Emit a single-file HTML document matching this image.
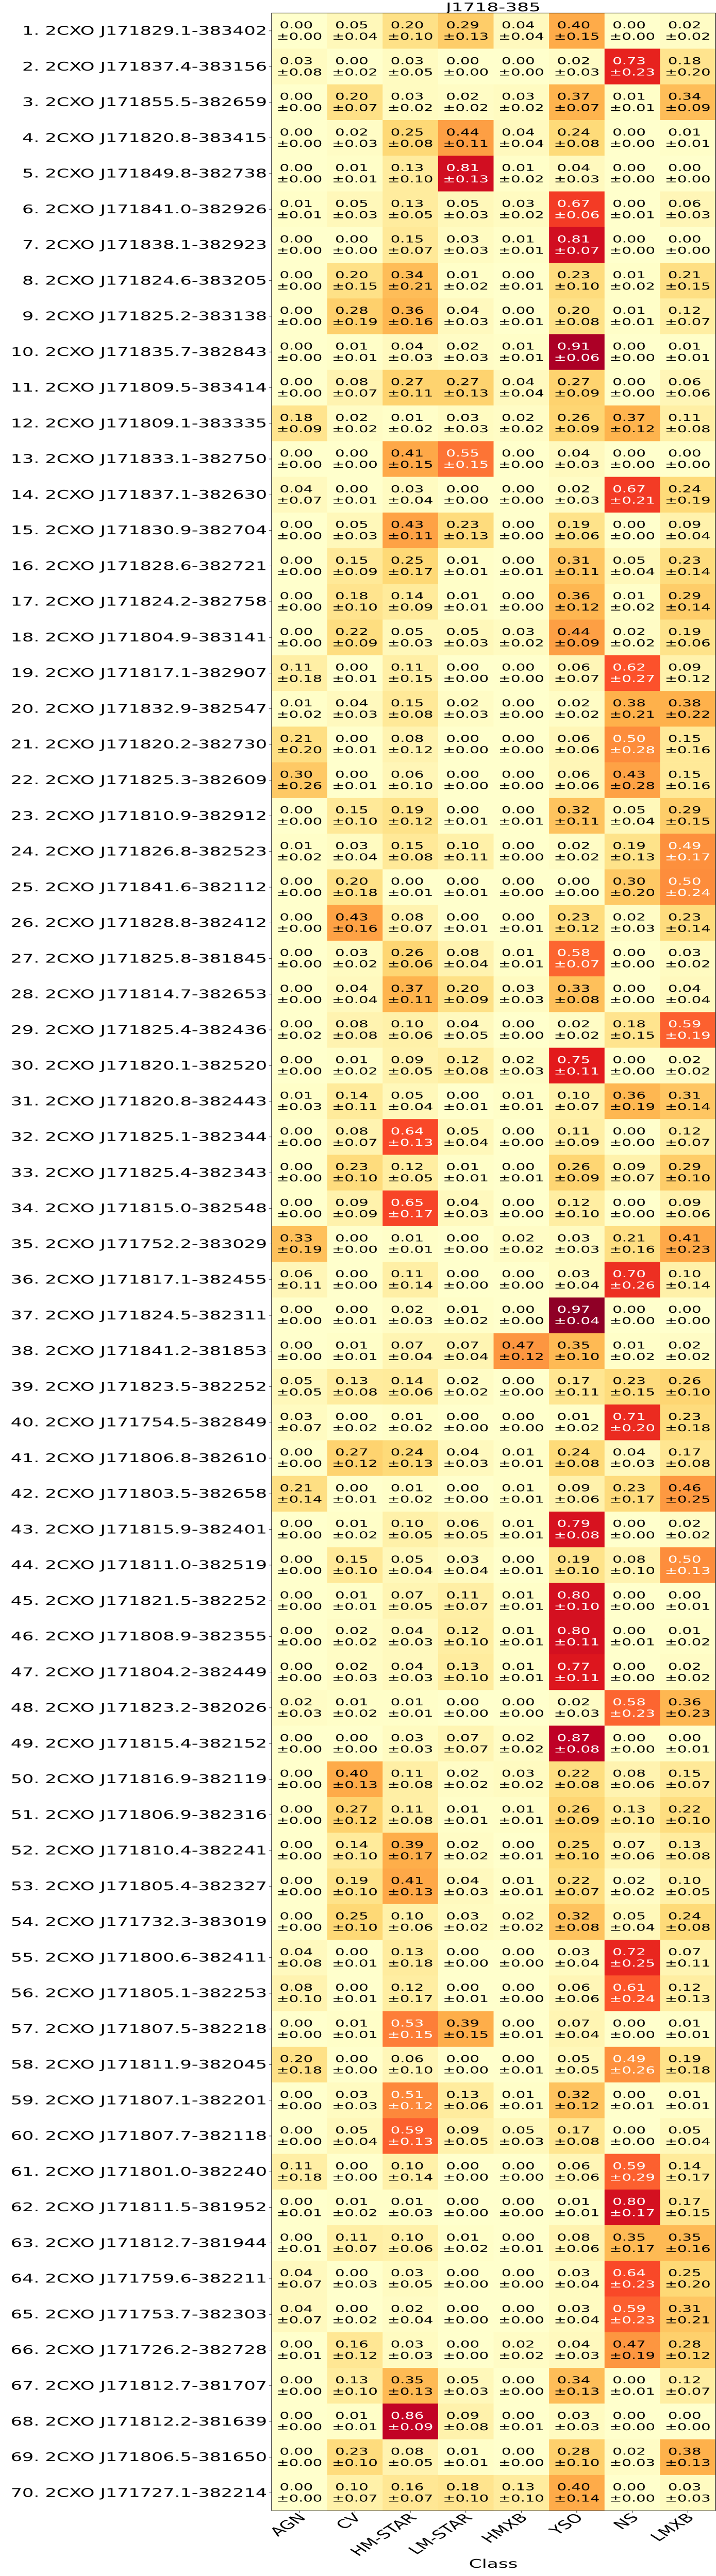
<!DOCTYPE html>
<html><head><meta charset="utf-8">
<style>
html,body{margin:0;padding:0;background:#fff;overflow:hidden;width:100%;height:100%;}
svg{display:block;width:100vw;height:100vh;font-family:"DejaVu Sans","Liberation Sans",sans-serif;}
</style></head>
<body>
<svg id="chart" viewBox="0 0 1389 7725" preserveAspectRatio="none" xmlns="http://www.w3.org/2000/svg">
<text x="957" y="34" text-anchor="middle" font-size="36" fill="#000">J1718-385</text>
<g id="cells"></g>
<g id="ylabels"></g>
<g id="xlabels"></g>
<rect id="frame" fill="none" stroke="#000" stroke-width="1.2"></rect>
<text x="957" y="7700" text-anchor="middle" font-size="36" fill="#000">Class</text>
</svg>
<script>
const classes = ["AGN","CV","HM-STAR","LM-STAR","HMXB","YSO","NS","LMXB"];
const sources = ["2CXO J171829.1-383402","2CXO J171837.4-383156","2CXO J171855.5-382659","2CXO J171820.8-383415","2CXO J171849.8-382738","2CXO J171841.0-382926","2CXO J171838.1-382923","2CXO J171824.6-383205","2CXO J171825.2-383138","2CXO J171835.7-382843","2CXO J171809.5-383414","2CXO J171809.1-383335","2CXO J171833.1-382750","2CXO J171837.1-382630","2CXO J171830.9-382704","2CXO J171828.6-382721","2CXO J171824.2-382758","2CXO J171804.9-383141","2CXO J171817.1-382907","2CXO J171832.9-382547","2CXO J171820.2-382730","2CXO J171825.3-382609","2CXO J171810.9-382912","2CXO J171826.8-382523","2CXO J171841.6-382112","2CXO J171828.8-382412","2CXO J171825.8-381845","2CXO J171814.7-382653","2CXO J171825.4-382436","2CXO J171820.1-382520","2CXO J171820.8-382443","2CXO J171825.1-382344","2CXO J171825.4-382343","2CXO J171815.0-382548","2CXO J171752.2-383029","2CXO J171817.1-382455","2CXO J171824.5-382311","2CXO J171841.2-381853","2CXO J171823.5-382252","2CXO J171754.5-382849","2CXO J171806.8-382610","2CXO J171803.5-382658","2CXO J171815.9-382401","2CXO J171811.0-382519","2CXO J171821.5-382252","2CXO J171808.9-382355","2CXO J171804.2-382449","2CXO J171823.2-382026","2CXO J171815.4-382152","2CXO J171816.9-382119","2CXO J171806.9-382316","2CXO J171810.4-382241","2CXO J171805.4-382327","2CXO J171732.3-383019","2CXO J171800.6-382411","2CXO J171805.1-382253","2CXO J171807.5-382218","2CXO J171811.9-382045","2CXO J171807.1-382201","2CXO J171807.7-382118","2CXO J171801.0-382240","2CXO J171811.5-381952","2CXO J171812.7-381944","2CXO J171759.6-382211","2CXO J171753.7-382303","2CXO J171726.2-382728","2CXO J171812.7-381707","2CXO J171812.2-381639","2CXO J171806.5-381650","2CXO J171727.1-382214"];
const probs = [
[0.00,0.05,0.20,0.29,0.04,0.40,0.00,0.02],
[0.03,0.00,0.03,0.00,0.00,0.02,0.73,0.18],
[0.00,0.20,0.03,0.02,0.03,0.37,0.01,0.34],
[0.00,0.02,0.25,0.44,0.04,0.24,0.00,0.01],
[0.00,0.01,0.13,0.81,0.01,0.04,0.00,0.00],
[0.01,0.05,0.13,0.05,0.03,0.67,0.00,0.06],
[0.00,0.00,0.15,0.03,0.01,0.81,0.00,0.00],
[0.00,0.20,0.34,0.01,0.00,0.23,0.01,0.21],
[0.00,0.28,0.36,0.04,0.00,0.20,0.01,0.12],
[0.00,0.01,0.04,0.02,0.01,0.91,0.00,0.01],
[0.00,0.08,0.27,0.27,0.04,0.27,0.00,0.06],
[0.18,0.02,0.01,0.03,0.02,0.26,0.37,0.11],
[0.00,0.00,0.41,0.55,0.00,0.04,0.00,0.00],
[0.04,0.00,0.03,0.00,0.00,0.02,0.67,0.24],
[0.00,0.05,0.43,0.23,0.00,0.19,0.00,0.09],
[0.00,0.15,0.25,0.01,0.00,0.31,0.05,0.23],
[0.00,0.18,0.14,0.01,0.00,0.36,0.01,0.29],
[0.00,0.22,0.05,0.05,0.03,0.44,0.02,0.19],
[0.11,0.00,0.11,0.00,0.00,0.06,0.62,0.09],
[0.01,0.04,0.15,0.02,0.00,0.02,0.38,0.38],
[0.21,0.00,0.08,0.00,0.00,0.06,0.50,0.15],
[0.30,0.00,0.06,0.00,0.00,0.06,0.43,0.15],
[0.00,0.15,0.19,0.00,0.00,0.32,0.05,0.29],
[0.01,0.03,0.15,0.10,0.00,0.02,0.19,0.49],
[0.00,0.20,0.00,0.00,0.00,0.00,0.30,0.50],
[0.00,0.43,0.08,0.00,0.00,0.23,0.02,0.23],
[0.00,0.03,0.26,0.08,0.01,0.58,0.00,0.03],
[0.00,0.04,0.37,0.20,0.03,0.33,0.00,0.04],
[0.00,0.08,0.10,0.04,0.00,0.02,0.18,0.59],
[0.00,0.01,0.09,0.12,0.02,0.75,0.00,0.02],
[0.01,0.14,0.05,0.00,0.01,0.10,0.36,0.31],
[0.00,0.08,0.64,0.05,0.00,0.11,0.00,0.12],
[0.00,0.23,0.12,0.01,0.00,0.26,0.09,0.29],
[0.00,0.09,0.65,0.04,0.00,0.12,0.00,0.09],
[0.33,0.00,0.01,0.00,0.02,0.03,0.21,0.41],
[0.06,0.00,0.11,0.00,0.00,0.03,0.70,0.10],
[0.00,0.00,0.02,0.01,0.00,0.97,0.00,0.00],
[0.00,0.01,0.07,0.07,0.47,0.35,0.01,0.02],
[0.05,0.13,0.14,0.02,0.00,0.17,0.23,0.26],
[0.03,0.00,0.01,0.00,0.00,0.01,0.71,0.23],
[0.00,0.27,0.24,0.04,0.01,0.24,0.04,0.17],
[0.21,0.00,0.01,0.00,0.01,0.09,0.23,0.46],
[0.00,0.01,0.10,0.06,0.01,0.79,0.00,0.02],
[0.00,0.15,0.05,0.03,0.00,0.19,0.08,0.50],
[0.00,0.01,0.07,0.11,0.01,0.80,0.00,0.00],
[0.00,0.02,0.04,0.12,0.01,0.80,0.00,0.01],
[0.00,0.02,0.04,0.13,0.01,0.77,0.00,0.02],
[0.02,0.01,0.01,0.00,0.00,0.02,0.58,0.36],
[0.00,0.00,0.03,0.07,0.02,0.87,0.00,0.00],
[0.00,0.40,0.11,0.02,0.03,0.22,0.08,0.15],
[0.00,0.27,0.11,0.01,0.01,0.26,0.13,0.22],
[0.00,0.14,0.39,0.02,0.00,0.25,0.07,0.13],
[0.00,0.19,0.41,0.04,0.01,0.22,0.02,0.10],
[0.00,0.25,0.10,0.03,0.02,0.32,0.05,0.24],
[0.04,0.00,0.13,0.00,0.00,0.03,0.72,0.07],
[0.08,0.00,0.12,0.00,0.00,0.06,0.61,0.12],
[0.00,0.01,0.53,0.39,0.00,0.07,0.00,0.01],
[0.20,0.00,0.06,0.00,0.00,0.05,0.49,0.19],
[0.00,0.03,0.51,0.13,0.01,0.32,0.00,0.01],
[0.00,0.05,0.59,0.09,0.05,0.17,0.00,0.05],
[0.11,0.00,0.10,0.00,0.00,0.06,0.59,0.14],
[0.00,0.01,0.01,0.00,0.00,0.01,0.80,0.17],
[0.00,0.11,0.10,0.01,0.00,0.08,0.35,0.35],
[0.04,0.00,0.03,0.00,0.00,0.03,0.64,0.25],
[0.04,0.00,0.02,0.00,0.00,0.03,0.59,0.31],
[0.00,0.16,0.03,0.00,0.02,0.04,0.47,0.28],
[0.00,0.13,0.35,0.05,0.00,0.34,0.00,0.12],
[0.00,0.01,0.86,0.09,0.00,0.03,0.00,0.00],
[0.00,0.23,0.08,0.01,0.00,0.28,0.02,0.38],
[0.00,0.10,0.16,0.18,0.13,0.40,0.00,0.03]
];
const errs = [
[0.00,0.04,0.10,0.13,0.04,0.15,0.00,0.02],
[0.08,0.02,0.05,0.00,0.00,0.03,0.23,0.20],
[0.00,0.07,0.02,0.02,0.02,0.07,0.01,0.09],
[0.00,0.03,0.08,0.11,0.04,0.08,0.00,0.01],
[0.00,0.01,0.10,0.13,0.02,0.03,0.00,0.00],
[0.01,0.03,0.05,0.03,0.02,0.06,0.01,0.03],
[0.00,0.00,0.07,0.03,0.01,0.07,0.00,0.00],
[0.00,0.15,0.21,0.02,0.01,0.10,0.02,0.15],
[0.00,0.19,0.16,0.03,0.01,0.08,0.01,0.07],
[0.00,0.01,0.03,0.03,0.01,0.06,0.00,0.01],
[0.00,0.07,0.11,0.13,0.04,0.09,0.00,0.06],
[0.09,0.02,0.02,0.03,0.02,0.09,0.12,0.08],
[0.00,0.00,0.15,0.15,0.00,0.03,0.00,0.00],
[0.07,0.01,0.04,0.00,0.00,0.03,0.21,0.19],
[0.00,0.03,0.11,0.13,0.00,0.06,0.00,0.04],
[0.00,0.09,0.17,0.01,0.01,0.11,0.04,0.14],
[0.00,0.10,0.09,0.01,0.00,0.12,0.02,0.14],
[0.00,0.09,0.03,0.03,0.02,0.09,0.02,0.06],
[0.18,0.01,0.15,0.00,0.00,0.07,0.27,0.12],
[0.02,0.03,0.08,0.03,0.00,0.02,0.21,0.22],
[0.20,0.01,0.12,0.00,0.00,0.06,0.28,0.16],
[0.26,0.01,0.10,0.00,0.00,0.06,0.28,0.16],
[0.00,0.10,0.12,0.01,0.01,0.11,0.04,0.15],
[0.02,0.04,0.08,0.11,0.00,0.02,0.13,0.17],
[0.00,0.18,0.01,0.01,0.00,0.00,0.20,0.24],
[0.00,0.16,0.07,0.01,0.01,0.12,0.03,0.14],
[0.00,0.02,0.06,0.04,0.01,0.07,0.00,0.02],
[0.00,0.04,0.11,0.09,0.03,0.08,0.00,0.04],
[0.02,0.08,0.06,0.05,0.00,0.02,0.15,0.19],
[0.00,0.02,0.05,0.08,0.03,0.11,0.00,0.02],
[0.03,0.11,0.04,0.01,0.01,0.07,0.19,0.14],
[0.00,0.07,0.13,0.04,0.00,0.09,0.00,0.07],
[0.00,0.10,0.05,0.01,0.01,0.09,0.07,0.10],
[0.00,0.09,0.17,0.03,0.00,0.10,0.00,0.06],
[0.19,0.00,0.01,0.00,0.02,0.03,0.16,0.23],
[0.11,0.00,0.14,0.00,0.00,0.04,0.26,0.14],
[0.00,0.01,0.03,0.02,0.00,0.04,0.00,0.00],
[0.00,0.01,0.04,0.04,0.12,0.10,0.02,0.02],
[0.05,0.08,0.06,0.02,0.00,0.11,0.15,0.10],
[0.07,0.02,0.02,0.00,0.00,0.02,0.20,0.18],
[0.00,0.12,0.13,0.03,0.01,0.08,0.03,0.08],
[0.14,0.01,0.02,0.00,0.01,0.06,0.17,0.25],
[0.00,0.02,0.05,0.05,0.01,0.08,0.00,0.02],
[0.00,0.10,0.04,0.04,0.01,0.10,0.10,0.13],
[0.00,0.01,0.05,0.07,0.01,0.10,0.00,0.01],
[0.00,0.02,0.03,0.10,0.01,0.11,0.01,0.02],
[0.00,0.03,0.03,0.10,0.01,0.11,0.00,0.02],
[0.03,0.02,0.01,0.00,0.00,0.03,0.23,0.23],
[0.00,0.00,0.03,0.07,0.02,0.08,0.00,0.01],
[0.00,0.13,0.08,0.02,0.02,0.08,0.06,0.07],
[0.00,0.12,0.08,0.01,0.01,0.09,0.10,0.10],
[0.00,0.10,0.17,0.02,0.01,0.10,0.06,0.08],
[0.00,0.10,0.13,0.03,0.01,0.07,0.02,0.05],
[0.00,0.10,0.06,0.02,0.02,0.08,0.04,0.08],
[0.08,0.01,0.18,0.00,0.00,0.04,0.25,0.11],
[0.10,0.01,0.17,0.01,0.00,0.06,0.24,0.13],
[0.00,0.01,0.15,0.15,0.01,0.04,0.00,0.01],
[0.18,0.00,0.10,0.00,0.01,0.05,0.26,0.18],
[0.00,0.03,0.12,0.06,0.01,0.12,0.01,0.01],
[0.00,0.04,0.13,0.05,0.03,0.08,0.00,0.04],
[0.18,0.00,0.14,0.00,0.00,0.06,0.29,0.17],
[0.01,0.02,0.03,0.00,0.00,0.01,0.17,0.15],
[0.01,0.07,0.06,0.02,0.01,0.06,0.17,0.16],
[0.07,0.03,0.05,0.00,0.00,0.04,0.23,0.20],
[0.07,0.02,0.04,0.00,0.00,0.04,0.23,0.21],
[0.01,0.12,0.03,0.00,0.02,0.03,0.19,0.12],
[0.00,0.10,0.13,0.03,0.00,0.13,0.01,0.07],
[0.00,0.01,0.09,0.08,0.01,0.03,0.00,0.00],
[0.00,0.10,0.05,0.01,0.00,0.10,0.03,0.13],
[0.00,0.07,0.07,0.10,0.10,0.14,0.00,0.03]
];

const NS = "http://www.w3.org/2000/svg";
const plotLeft = 527, plotRight = 1388, plotTop = 39, rowH = 107.0;
const colW = (plotRight - plotLeft) / classes.length;
const plotBottom = plotTop + rowH * sources.length;
function xPos(i){ return plotLeft + i * colW; }
function yPos(j){ return plotTop + j * rowH; }
const stops = [[255,255,204],[255,237,160],[254,217,118],[254,178,76],[253,141,60],[252,78,42],[227,26,28],[189,0,38],[128,0,38]];
function color(v){
  v = Math.max(0, Math.min(1, v));
  const t = v * (stops.length - 1), i = Math.min(Math.floor(t), stops.length - 2), f = t - i;
  const a = stops[i], b = stops[i+1];
  return "rgb(" + a.map((c,k)=>Math.round(c + (b[k]-c)*f)).join(",") + ")";
}
function mk(tag, attrs){ const e = document.createElementNS(NS, tag); for (const k in attrs) e.setAttribute(k, attrs[k]); return e; }

const cellsG = document.getElementById("cells");
const ylG = document.getElementById("ylabels");
const xlG = document.getElementById("xlabels");

sources.forEach((src, j) => {
  const y0 = yPos(j);
  probs[j].forEach((v, i) => {
    const x0 = xPos(i);
    const r = mk("rect", {x: x0, y: y0, width: colW + 0.5, height: rowH + 0.5, fill: color(v)});
    
    
    cellsG.appendChild(r);
    const tc = v >= 0.48 ? "#fff" : "#000";
    const t1 = mk("text", {x: x0 + colW/2 - 6, y: y0 + 46, "text-anchor": "middle", "font-size": 29, fill: tc});
    t1.textContent = v.toFixed(2);
    
    
    cellsG.appendChild(t1);
    const t2 = mk("text", {x: x0 + colW/2, y: y0 + 80, "text-anchor": "middle", "font-size": 29, fill: tc});
    t2.textContent = "\u00b1" + errs[j][i].toFixed(2);
    
    
    cellsG.appendChild(t2);
  });
  const cy = y0 + rowH/2;
  const tick = mk("line", {x1: plotLeft - 5, x2: plotLeft, y1: cy, y2: cy, stroke: "#000", "stroke-width": 1});
  
  
  ylG.appendChild(tick);
  const lab = mk("text", {x: plotLeft - 9, y: cy + 12, "text-anchor": "end", "font-size": 35, fill: "#000"});
  lab.textContent = (j+1) + ". " + src;
  
  
  ylG.appendChild(lab);
});

classes.forEach((c, i) => {
  const cx = xPos(i) + colW/2;
  const tick = mk("line", {x1: cx, x2: cx, y1: plotBottom, y2: plotBottom + 6, stroke: "#000", "stroke-width": 1});
  
  
  xlG.appendChild(tick);
  const ax = cx + 14, ay = plotBottom + 23;
  const t = mk("text", {x: ax, y: ay, "text-anchor": "end", "font-size": 36, fill: "#000", transform: "rotate(-45 " + ax + " " + ay + ")"});
  t.textContent = c;
  
  
  xlG.appendChild(t);
});

const fr = document.getElementById("frame");
fr.setAttribute("x", plotLeft); fr.setAttribute("y", plotTop);
fr.setAttribute("width", plotRight - plotLeft); fr.setAttribute("height", plotBottom - plotTop);
</script>
</body></html>
